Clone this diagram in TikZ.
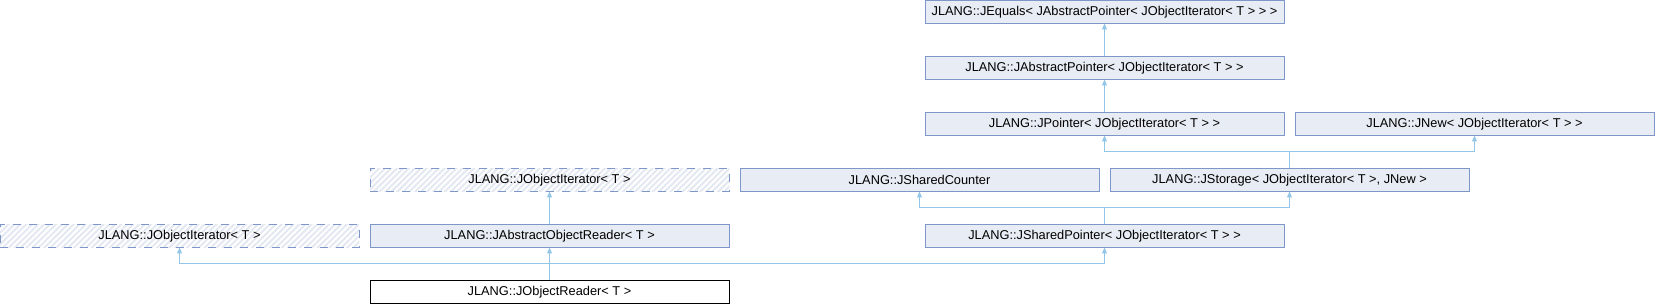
\documentclass[tikz,border=0pt]{standalone}
\usepackage{fontspec}
\setmainfont{Liberation Sans}
\usepackage{tikz}
\usetikzlibrary{arrows.meta, positioning, calc, patterns.meta}
\definecolor{dxborder}{HTML}{7F96C9}
\definecolor{dxfill}{HTML}{E8ECF4}
\definecolor{dxhatch}{HTML}{E3E8F2}
\definecolor{dxedge}{HTML}{93C6E7}

\begin{document}
\begin{tikzpicture}[
    x=1pt, y=1pt,
    node distance=33pt and 11pt,
    cls/.style={rectangle, draw=dxborder, fill=dxfill, line width=1pt, minimum width=359pt, minimum height=23pt, inner sep=0pt, outer sep=0pt, font=\fontsize{12.8}{14}\selectfont},
    virt/.style={cls, fill=none, dash pattern=on 8pt off 8pt, pattern={Lines[angle=45, distance=4.2pt, line width=2pt]}, pattern color=dxhatch},
    leaf/.style={cls, draw=black, fill=white},
    inherit/.style={-{Triangle[width=5pt, length=6pt]}, draw=dxedge, line width=1pt}
]
\useasboundingbox (0,0) rectangle (1655,304);
\fill[white] (0,0) rectangle (1655,304);

% pointer chain
\node[cls] (equals) at (1104.5,292) {JLANG::JEquals< JAbstractPointer< JObjectIterator< T > > >};
\node[cls, below=of equals] (abspointer) {JLANG::JAbstractPointer< JObjectIterator< T > >};
\node[cls, below=of abspointer] (pointer) {JLANG::JPointer< JObjectIterator< T > >};
\node[cls, right=of pointer] (jnew) {JLANG::JNew< JObjectIterator< T > >};

% reader side
\node[leaf] (reader) at (549.5,12) {JLANG::JObjectReader< T >};
\node[cls, above=of reader] (absreader) {JLANG::JAbstractObjectReader< T >};
\node[virt, left=of absreader] (iterleft) {JLANG::JObjectIterator< T >};
\node[virt, above=of absreader] (iterup) {JLANG::JObjectIterator< T >};
\node[cls, right=of iterup] (counter) {JLANG::JSharedCounter};
\node[cls, right=of counter] (storage) {JLANG::JStorage< JObjectIterator< T >, JNew >};
\node[cls, below=89pt of pointer] (sharedptr) {JLANG::JSharedPointer< JObjectIterator< T > >};

\coordinate (forkstorage) at ($(storage.north)!.5!(storage.north |- pointer.south)$);
\coordinate (forkshared) at ($(sharedptr.north)!.5!(sharedptr.north |- storage.south)$);
\coordinate (forkreader) at ($(reader.north)!.5!(absreader.south)$);

\draw[inherit] (abspointer) -- (equals);
\draw[inherit] (pointer) -- (abspointer);
\draw[inherit] (storage.north) -- (forkstorage) -| (pointer.south);
\draw[inherit] (forkstorage) -| (jnew.south);
\draw[inherit] (sharedptr.north) -- (forkshared) -| (counter.south);
\draw[inherit] (forkshared) -| (storage.south);
\draw[inherit] (absreader) -- (iterup);
\draw[inherit] (reader.north) -- (absreader.south);
\draw[inherit] (forkreader) -| (iterleft.south);
\draw[inherit] (forkreader) -| (sharedptr.south);

\end{tikzpicture}
\end{document}
